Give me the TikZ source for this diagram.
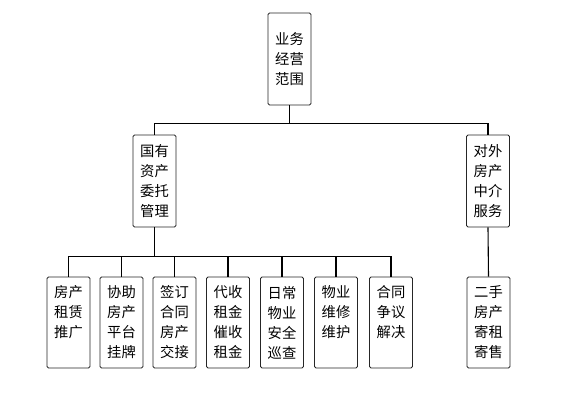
\documentclass[tikz,border=0pt]{standalone}
\usepackage{fontspec}
\usetikzlibrary{calc}
\newfontfamily\cjk{Noto Sans CJK SC}
\begin{document}
\begin{tikzpicture}[x=1pt,y=-1pt,
  box/.style={draw=black!85,line width=0.9pt,rounded corners=1.6pt,inner sep=0pt,
    text width=43pt,align=center,minimum width=43pt,
    font=\cjk\fontsize{14.3}{20}\selectfont},
  topbox/.style={box,minimum height=92pt},
  leaf/.style={box,minimum height=91pt},
  conn/.style={line width=1.1pt,black}]
\useasboundingbox (0,0) rectangle (584,413);
\node[topbox] (top) at (289.5,59) {业务\\经营\\范围};
\node[topbox] (m1) at (154.5,181) {国有\\资产\\委托\\管理};
\node[topbox] (m2) at (488,181) {对外\\房产\\中介\\服务};
\node[leaf] (b1) at (68.5,322.5) {房产\\租赁\\推广\\\phantom{房}};
\node[leaf] (b2) at (121.5,322.5) {协助\\房产\\平台\\挂牌};
\node[leaf] (b3) at (174.5,322.5) {签订\\合同\\房产\\交接};
\node[leaf] (b4) at (228,322.5) {代收\\租金\\催收\\租金};
\node[leaf] (b5) at (282,322.5) {日常\\物业\\安全\\巡查};
\node[leaf] (b6) at (336,322.5) {物业\\维修\\维护\\\phantom{房}};
\node[leaf] (b7) at (391,322.5) {合同\\争议\\解决\\\phantom{房}};
\node[leaf] (b8) at (488.5,322.5) {二手\\房产\\寄租\\寄售};
\coordinate (j1) at ($(top.south)+(0,18)$);
\draw[conn] (top.south) -- (j1);
\draw[conn] (j1) -| (m1.north);
\draw[conn] (j1) -| (m2.north);
\coordinate (j2) at ($(m1.south)+(0,29)$);
\draw[conn] (m1.south) -- (j2);
\foreach \b in {b1,b2,b3,b4,b5,b6,b7}{\draw[conn] (j2) -| (\b.north);}
\draw[conn] (m2.south) -- (b8.north);
\end{tikzpicture}
\end{document}
